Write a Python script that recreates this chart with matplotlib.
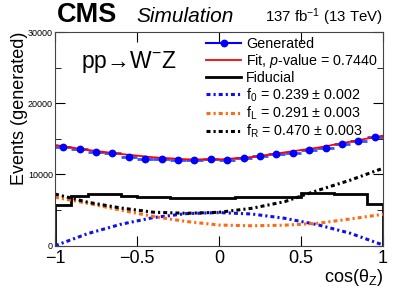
import numpy as np
import matplotlib
matplotlib.use("Agg")
import matplotlib.pyplot as plt
from matplotlib.ticker import MultipleLocator
from matplotlib.lines import Line2D

plt.rcParams['font.family'] = ['Liberation Sans', 'DejaVu Sans']
plt.rcParams['mathtext.fontset'] = 'custom'
plt.rcParams['mathtext.rm'] = 'Liberation Sans'
plt.rcParams['mathtext.it'] = 'Liberation Sans:italic'
plt.rcParams['mathtext.default'] = 'regular'

# generated distribution, 20 bins in cos(theta_Z)
gen_x = [-0.95, -0.85, -0.75, -0.65, -0.55, -0.45, -0.35, -0.25, -0.15, -0.05,
         0.05, 0.15, 0.25, 0.35, 0.45, 0.55, 0.65, 0.75, 0.85, 0.95]
gen_y = [13900, 13540, 13120, 12980, 12500, 12180, 12180, 12040, 12080, 12220,
         12040, 12360, 12600, 12880, 12980, 13440, 13680, 14280, 14750, 15220]

# fiducial histogram
fid_edges = [-1.0, -0.9, -0.8, -0.7, -0.6, -0.5, -0.4, -0.3, -0.2, -0.1, 0.0,
             0.1, 0.2, 0.3, 0.4, 0.5, 0.6, 0.7, 0.8, 0.9, 1.0]
fid_y = [5650, 7000, 7250, 7250, 7000, 6800, 6800, 6720, 6720, 6720,
         6720, 6900, 6900, 6900, 6900, 7400, 7450, 7250, 7250, 5800]

# fit and helicity components read at these points
curve_x = [-1.0, -0.8, -0.6, -0.4, -0.2, 0.0, 0.2, 0.4, 0.6, 0.8, 1.0]
fit_y = [14140, 13440, 12880, 12410, 12130, 12100, 12450, 13100, 13750, 14600, 15450]
f0_y = [0, 1700, 3000, 3950, 4500, 4650, 4450, 3850, 2950, 1750, 100]
fL_y = [6800, 5950, 5000, 4100, 3400, 2900, 2800, 2880, 3140, 3750, 4410]
fR_y = [7250, 6100, 5300, 4700, 4550, 4690, 5250, 6180, 7750, 9200, 10870]

fig = plt.figure(figsize=(3.99, 2.92), dpi=100)
ax = fig.add_axes([55/399, 1-245.7/292, 328/399, 213.7/292])

dd = (0, (1.3, 1.0, 0.7, 1.0))
fid = ax.stairs(fid_y, fid_edges, color='black', lw=2, baseline=0)
l0, = ax.plot(curve_x, f0_y, color='#1010ee', lw=2.2, ls=dd)
lL, = ax.plot(curve_x, fL_y, color='#ff6a10', lw=2.2, ls=dd)
lR, = ax.plot(curve_x, fR_y, color='black', lw=2.2, ls=dd)
ax.errorbar(gen_x, gen_y, xerr=0.05, yerr=120, fmt='o', color='#0000ff',
            ms=4.6, elinewidth=2, ecolor='#3355ff', capsize=0)
fit, = ax.plot(curve_x, fit_y, color='#ff0000', lw=1.3)
gen = Line2D([], [], color='#0000ff', lw=1.5, marker='o', ms=4.6)

ax.set_xlim(-1, 1)
ax.set_ylim(0, 30000)
ax.xaxis.set_major_locator(MultipleLocator(0.5))
ax.yaxis.set_major_locator(MultipleLocator(10000))
ax.yaxis.set_minor_locator(MultipleLocator(5000))
ax.set_xticks([-1, -0.5, 0, 0.5, 1])
ax.set_xticklabels(['\u22121', '\u22120.5', '0', '0.5', '1'])
ax.tick_params(axis='x', which='major', labelsize=13, direction='in', top=True, length=7, pad=3)
ax.tick_params(axis='y', which='major', labelsize=6.5, direction='in', right=True, length=7, pad=1.5)
ax.tick_params(axis='y', which='minor', direction='in', right=True, length=4)
for s in ax.spines.values():
    s.set_color('#444444')

ax.set_ylabel('Events (generated)', fontsize=13, loc='top', labelpad=0)
ax.set_xlabel('cos(\u03b8$_{Z}$)', fontsize=13, loc='right', labelpad=0)

ax.text(0.08, 0.86, 'pp\u2192W$^{\u2212}$Z', transform=ax.transAxes, fontsize=16.5, va='center')

fig.text(57/399, 1-22/292, 'CMS', fontsize=19.5, weight='bold', va='baseline')
fig.text(136/399, 1-22/292, 'Simulation', fontsize=15, style='italic', va='baseline')
fig.text(383/399, 1-22/292, '137 fb$^{-1}$ (13 TeV)', fontsize=10.8, ha='right', va='baseline')

labels = ['Generated', 'Fit, $\\mathit{p}$-value = 0.7440', 'Fiducial',
          'f$_{0}$ = 0.239 $\\pm$ 0.002', 'f$_{L}$ = 0.291 $\\pm$ 0.003',
          'f$_{R}$ = 0.470 $\\pm$ 0.003']
ax.legend([gen, fit, fid, l0, lL, lR], labels, loc='upper left',
          bbox_to_anchor=(199/399, 1-30/292), bbox_transform=fig.transFigure,
          frameon=False, fontsize=10.3, labelspacing=0.07, handlelength=2.45,
          handletextpad=0.35, borderpad=0)

fig.savefig('out.png', dpi=100)
